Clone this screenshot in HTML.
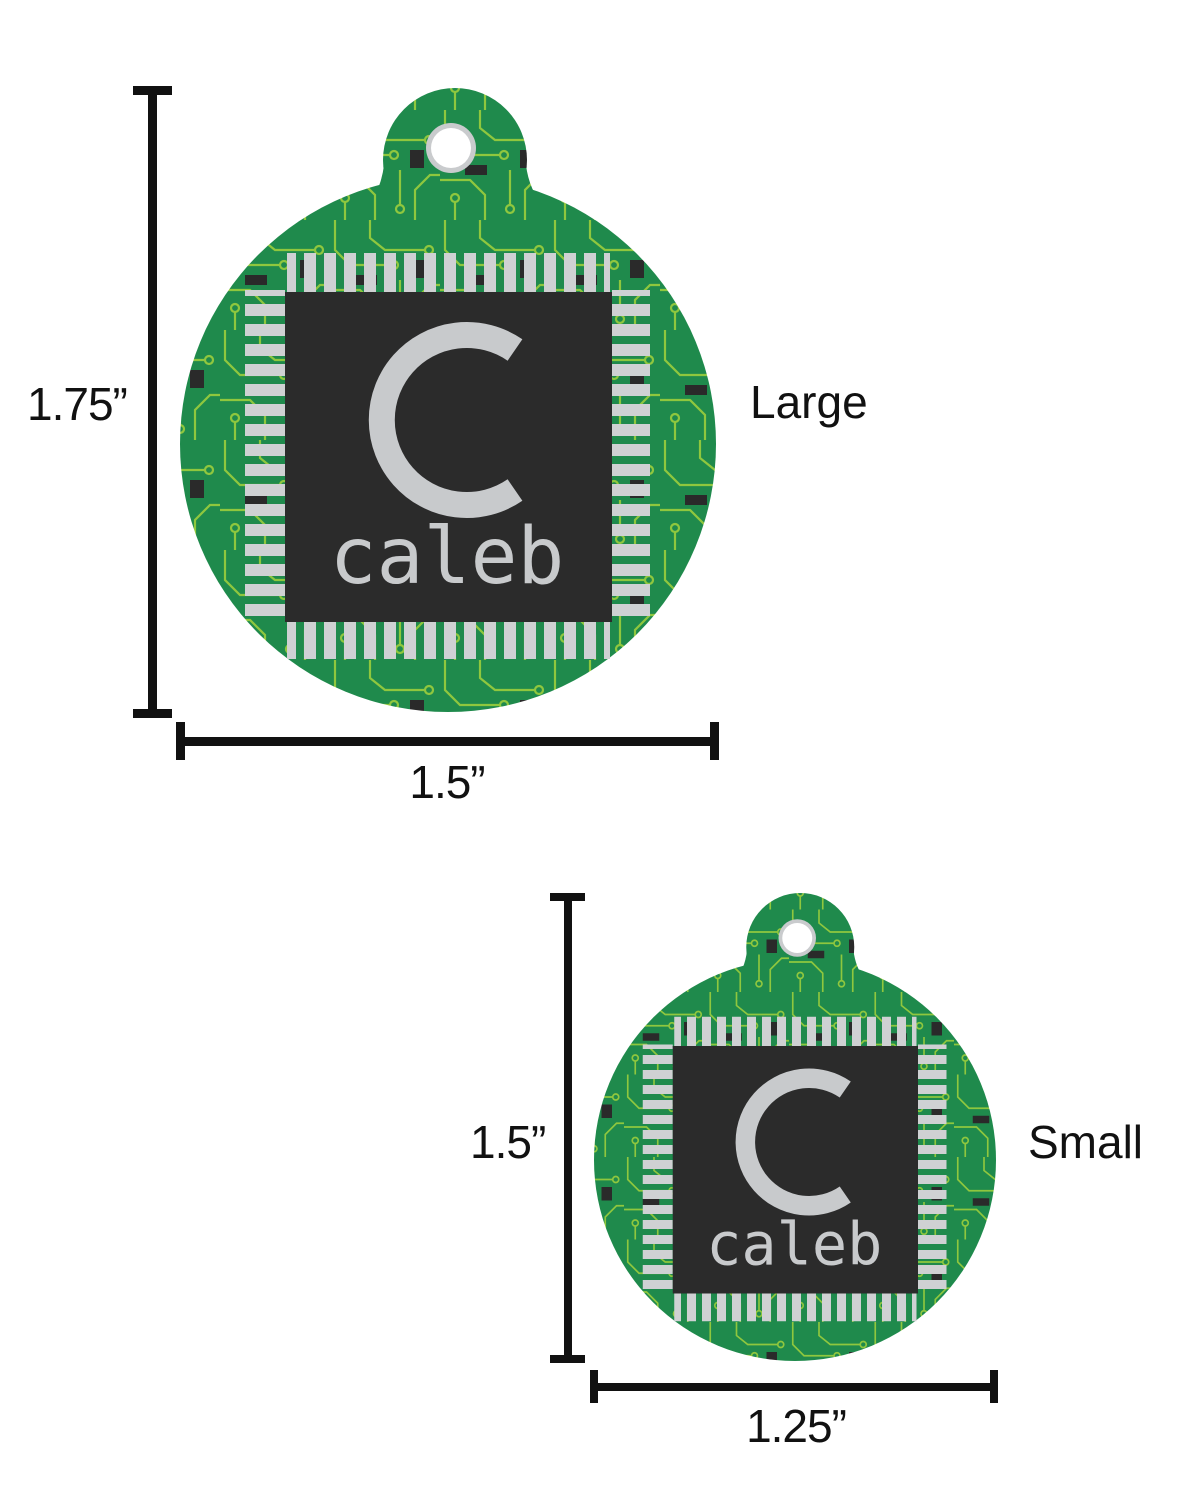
<!DOCTYPE html>
<html><head><meta charset="utf-8"><style>
html,body{margin:0;padding:0;background:#fff;}
svg{display:block}
</style></head><body>
<svg width="1184" height="1500" viewBox="0 0 1184 1500" xmlns="http://www.w3.org/2000/svg">
<defs>
  <pattern id="pcb" width="110" height="110" patternUnits="userSpaceOnUse">
    <rect width="110" height="110" fill="#1f8a4c"/>
    <g fill="none" stroke="#8fc73e" stroke-width="2.2">
      <path d="M5 0 V30 L20 45 H60"/><circle cx="64" cy="45" r="4"/>
      <path d="M40 0 V18 L55 30 H95"/><circle cx="99" cy="30" r="4"/>
      <path d="M0 70 H30 L45 85 V110"/>
      <path d="M70 60 V95"/><circle cx="70" cy="99" r="4"/>
      <path d="M85 110 V80 L100 65 H110"/>
      <path d="M15 110 V92"/><circle cx="15" cy="88" r="4"/>
    </g>
    <rect x="25" y="55" width="22" height="10" fill="#2a2a2a"/>
    <rect x="80" y="40" width="14" height="18" fill="#2a2a2a"/>
  </pattern>
  <pattern id="pinV" width="20" height="40" patternUnits="userSpaceOnUse">
    <rect x="4" y="0" width="12" height="40" fill="#cfd1d3"/>
  </pattern>
  <pattern id="pinH" width="40" height="20" patternUnits="userSpaceOnUse">
    <rect x="0" y="4" width="40" height="12" fill="#cfd1d3"/>
  </pattern>
  <g id="tag">
    <g fill="url(#pcb)">
      <circle cx="448" cy="444" r="268"/>
      <circle cx="455" cy="160" r="72"/>
      <path d="M325 240 Q378 215 384 165 L526 165 Q532 215 590 240 Z"/>
    </g>
    <circle cx="451" cy="148" r="25" fill="#c9cbcd"/>
    <circle cx="451" cy="148" r="20" fill="#fff"/>
    <rect x="287" y="253" width="323" height="39" fill="url(#pinV)"/>
    <rect x="287" y="622" width="323" height="37" fill="url(#pinV)"/>
    <rect x="245" y="290" width="40" height="330" fill="url(#pinH)"/>
    <rect x="612" y="290" width="38" height="330" fill="url(#pinH)"/>
    <rect x="285" y="292" width="327" height="330" fill="#2b2b2b"/>
    <path d="M515 350 A85 85 0 1 0 515 490" fill="none" stroke="#c8cacc" stroke-width="26"/>
    <text x="447" y="583" text-anchor="middle" font-family="DejaVu Sans Mono, Liberation Mono, monospace" font-size="78" fill="#c8cacc">caleb</text>
  </g>
</defs>

<use href="#tag"/>
<g transform="translate(795,1160) scale(0.75) translate(-448,-444)"><use href="#tag"/></g>

<g fill="#111">
  <rect x="148" y="86" width="9" height="631"/>
  <rect x="133" y="86" width="39" height="9"/>
  <rect x="133" y="709" width="39" height="9"/>
  <rect x="177" y="737" width="541" height="9"/>
  <rect x="176" y="722" width="9" height="38"/>
  <rect x="710" y="722" width="9" height="38"/>
  <rect x="564" y="893" width="8" height="470"/>
  <rect x="550" y="893" width="35" height="8"/>
  <rect x="550" y="1355" width="35" height="8"/>
  <rect x="593" y="1383" width="404" height="8"/>
  <rect x="590" y="1370" width="8" height="33"/>
  <rect x="990" y="1370" width="8" height="33"/>
</g>
<g font-family="Liberation Sans, Arial, sans-serif" font-size="46" fill="#111">
  <text x="27" y="420" letter-spacing="-1">1.75”</text>
  <text x="447" y="798" text-anchor="middle" letter-spacing="-1">1.5”</text>
  <text x="750" y="418">Large</text>
  <text x="470" y="1158" letter-spacing="-1">1.5”</text>
  <text x="796" y="1442" text-anchor="middle" letter-spacing="-1">1.25”</text>
  <text x="1028" y="1158">Small</text>
</g>
</svg>
</body></html>
